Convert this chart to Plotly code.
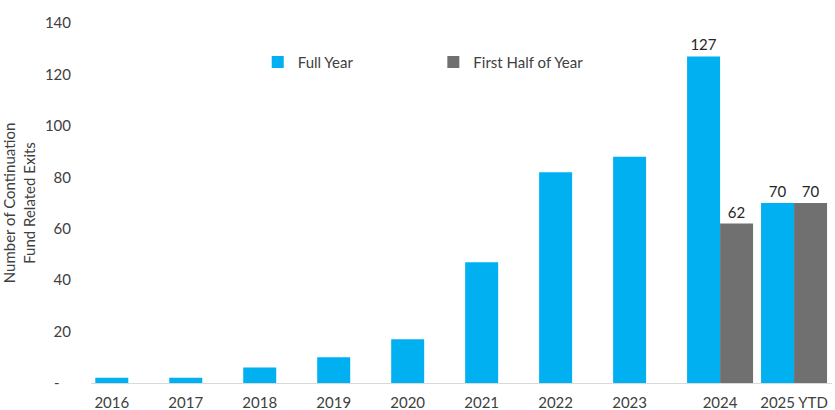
import plotly.graph_objects as go

categories = ["2016", "2017", "2018", "2019", "2020", "2021", "2022", "2023", "2024", "2025 YTD"]
full_year = [2, 2, 6, 10, 17, 47, 82, 88, 127, 70]
first_half = [None, None, None, None, None, None, None, None, 62, 70]
labeled = ["2024", "2025 YTD"]
y_tick_vals = [0, 20, 40, 60, 80, 100, 120, 140]
y_tick_text = ["-\u00a0\u00a0\u00a0", "20", "40", "60", "80", "100", "120", "140"]

BLUE = "#00B0F0"
GREY = "#707070"
TXT = "#404040"
FONT = "Lato"
FS = 15
W = 0.446

idx = list(range(len(categories)))
has_half = [v is not None for v in first_half]
tick_pos = [i + (W / 2 if h else 0) for i, h in zip(idx, has_half)]

fig = go.Figure()
fig.add_trace(go.Bar(
    x=idx, y=full_year, name="Full Year", width=W, offset=-W / 2,
    marker=dict(color=BLUE, line=dict(width=0)),
    text=[str(v) if c in labeled else "" for c, v in zip(categories, full_year)],
    textposition="outside", cliponaxis=False,
    textfont=dict(family=FONT, size=FS, color="#262626"),
    legend="legend",
))
fig.add_trace(go.Bar(
    x=idx, y=first_half, name="First Half of Year", width=W, offset=W / 2,
    marker=dict(color=GREY, line=dict(width=0)),
    text=[str(v) if v is not None else "" for v in first_half],
    textposition="outside", cliponaxis=False,
    textfont=dict(family=FONT, size=FS, color="#262626"),
    legend="legend2",
))

fig.update_layout(
    width=835, height=410,
    margin=dict(l=91, r=3, t=23, b=27),
    paper_bgcolor="white", plot_bgcolor="white",
    barmode="overlay",
    font=dict(family=FONT, size=FS, color=TXT),
    showlegend=True,
    legend=dict(orientation="h", x=0.225, y=0.891, xanchor="left", yanchor="middle",
                font=dict(family=FONT, size=FS, color=TXT), bgcolor="rgba(0,0,0,0)"),
    legend2=dict(orientation="h", x=0.462, y=0.891, xanchor="left", yanchor="middle",
                 font=dict(family=FONT, size=FS, color=TXT), bgcolor="rgba(0,0,0,0)"),
    xaxis=dict(
        range=[-0.281, 9.736], tickmode="array", tickvals=tick_pos, ticktext=categories,
        showgrid=False, zeroline=False, showline=True, linecolor="#D9D9D9", linewidth=1,
        ticks="", ticklabelstandoff=6, automargin=False,
        tickfont=dict(family=FONT, size=FS, color=TXT),
    ),
    yaxis=dict(
        range=[0, 140], tickmode="array", tickvals=y_tick_vals, ticktext=y_tick_text,
        showgrid=False, zeroline=False, showline=False, ticks="", automargin=False,
        ticklabelstandoff=19, tickfont=dict(family=FONT, size=FS, color=TXT),
        title=dict(text="Number of Continuation<br>Fund Related Exits",
                   font=dict(family=FONT, size=FS, color=TXT), standoff=8),
    ),
)

fig.write_html("out.html", config={"displayModeBar": False},
               post_script="document.body.style.margin='0';")
